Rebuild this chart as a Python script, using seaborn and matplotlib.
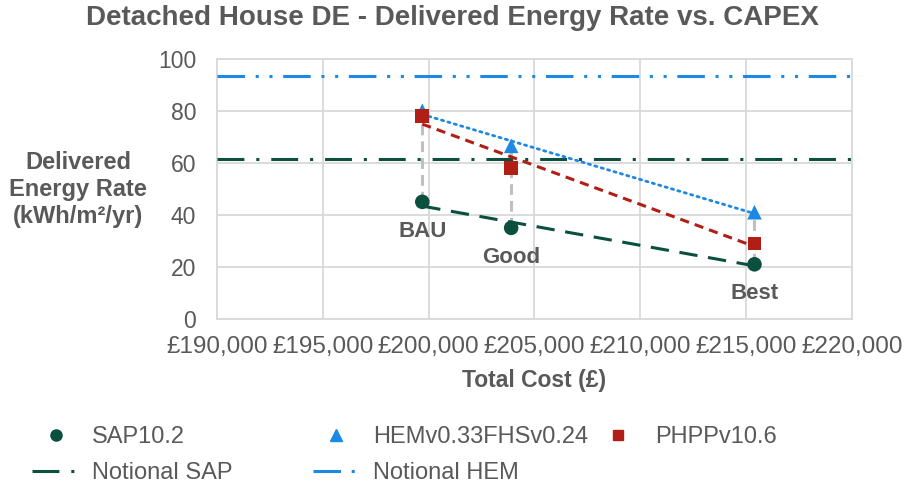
import matplotlib
matplotlib.use("Agg")
import matplotlib.pyplot as plt
import seaborn as sns
import pandas as pd
from matplotlib.lines import Line2D
from matplotlib.ticker import FuncFormatter

# Werte
total_cost = [199700, 203900, 215400]
package_labels = ["BAU", "Good", "Best"]
sap_values = [45, 35, 21]
hem_values = [80, 66.5, 41]
phpp_values = [78, 58, 29]
notional_sap = 61.5
notional_hem = 93.5

GREEN = "#0B4F3F"
BLUE = "#1E88E5"
RED = "#B01E16"
GREY_TXT = "#595959"
GRID = "#D9D9D9"


def main():
    sns.set_theme(style="white")
    plt.rcParams["font.family"] = ["Liberation Sans", "DejaVu Sans"]

    df = pd.DataFrame({"cost": total_cost, "label": package_labels,
                       "SAP10.2": sap_values, "HEMv0.33FHSv0.24": hem_values,
                       "PHPPv10.6": phpp_values})

    fig = plt.figure(figsize=(9.12, 4.93), dpi=100)
    ax = fig.add_axes([0.238, 0.353, 0.696, 0.528])

    # Hoch-Tief-Linien
    series = df[["SAP10.2", "HEMv0.33FHSv0.24", "PHPPv10.6"]]
    ax.vlines(df["cost"], series.min(axis=1), series.max(axis=1), colors="#BFBFBF",
              linewidth=2.2, linestyles=(0, (3.5, 2)), zorder=2)

    # Referenzlinien
    ax.axhline(notional_sap, color=GREEN, linewidth=2.2,
               linestyle=(0, (8.8, 3.9, 1, 3.9)), zorder=3)
    ax.axhline(notional_hem, color=BLUE, linewidth=2.2,
               linestyle=(0, (9, 3.5, 1, 3.5, 1, 3.5)), zorder=3)

    # Trendlinien
    sns.regplot(data=df, x="cost", y="SAP10.2", scatter=False, ci=None, ax=ax,
                line_kws=dict(color=GREEN, lw=2.2, ls=(0, (6, 3.5)), zorder=4))
    sns.regplot(data=df, x="cost", y="PHPPv10.6", scatter=False, ci=None, ax=ax,
                line_kws=dict(color=RED, lw=2.2, ls=(0, (3, 2)), zorder=4))
    sns.regplot(data=df, x="cost", y="HEMv0.33FHSv0.24", scatter=False, ci=None, ax=ax,
                line_kws=dict(color=BLUE, lw=2.0, ls=(0, (0.8, 1.6)),
                              dash_capstyle="round", zorder=4))

    # Punkte
    sns.scatterplot(data=df, x="cost", y="SAP10.2", color=GREEN, marker="o",
                    s=110, edgecolor="none", ax=ax, zorder=5)
    sns.scatterplot(data=df, x="cost", y="HEMv0.33FHSv0.24", color=BLUE, marker="^",
                    s=110, edgecolor="none", ax=ax, zorder=5)
    sns.scatterplot(data=df, x="cost", y="PHPPv10.6", color=RED, marker="s",
                    s=100, edgecolor="none", ax=ax, zorder=5)

    for x, y, lab in zip(total_cost, sap_values, package_labels):
        ax.annotate(lab, (x, y), xytext=(0, -21), textcoords="offset points",
                    ha="center", va="center", fontsize=16, fontweight="bold",
                    color=GREY_TXT)

    ax.set_xlim(190000, 220000)
    ax.set_ylim(0, 100)
    ax.set_xticks(range(190000, 220001, 5000))
    ax.set_yticks(range(0, 101, 20))
    ax.xaxis.set_major_formatter(FuncFormatter(lambda v, p: f"£{v:,.0f}"))
    ax.grid(True, color=GRID, linewidth=1.3)
    ax.set_axisbelow(True)
    for sp in ax.spines.values():
        sp.set_color(GRID)
        sp.set_linewidth(1.3)
    ax.tick_params(axis="x", labelsize=17.5, labelcolor=GREY_TXT, length=0, pad=12)
    ax.tick_params(axis="y", labelsize=16.5, labelcolor=GREY_TXT, length=0, pad=15)

    ax.set_xlabel("Total Cost (£)", fontsize=16.5, fontweight="bold",
                  color=GREY_TXT, labelpad=8)
    ax.set_ylabel("")
    fig.text(0.0855, 0.616, "Delivered\nEnergy Rate\n(kWh/m²/yr)", ha="center",
             va="center", fontsize=17, fontweight="bold", color=GREY_TXT,
             linespacing=1.22)
    fig.suptitle("Detached House DE - Delivered Energy Rate vs. CAPEX",
                 x=0.496, y=0.99, fontsize=20, fontweight="bold", color=GREY_TXT)

    # Legende in drei Spalten
    h_sap = Line2D([], [], color=GREEN, marker="o", ls="none", markersize=8)
    h_hem = Line2D([], [], color=BLUE, marker="^", ls="none", markersize=8)
    h_phpp = Line2D([], [], color=RED, marker="s", ls="none", markersize=7)
    h_nsap = Line2D([], [], color=GREEN, lw=2.2, ls=(0, (8.8, 3.9, 1, 3.9)))
    h_nhem = Line2D([], [], color=BLUE, lw=2.2, ls=(0, (9, 3.5, 1, 3.5, 1, 3.5)))
    legend_kw = dict(frameon=False, fontsize=17, labelcolor=GREY_TXT,
                     handlelength=2.0, handletextpad=0.55, labelspacing=0.6,
                     loc="upper left", borderaxespad=0, borderpad=0)
    columns = [([h_sap, h_nsap], ["SAP10.2", "Notional SAP"], 0.035),
               ([h_hem, h_nhem], ["HEMv0.33FHSv0.24", "Notional HEM"], 0.343),
               ([h_phpp], ["PHPPv10.6"], 0.652)]
    for handles, labels, xpos in columns:
        fig.legend(handles, labels, bbox_to_anchor=(xpos, 0.136), **legend_kw)
    fig.savefig("out.png", dpi=100)


if __name__ == "__main__":
    main()
